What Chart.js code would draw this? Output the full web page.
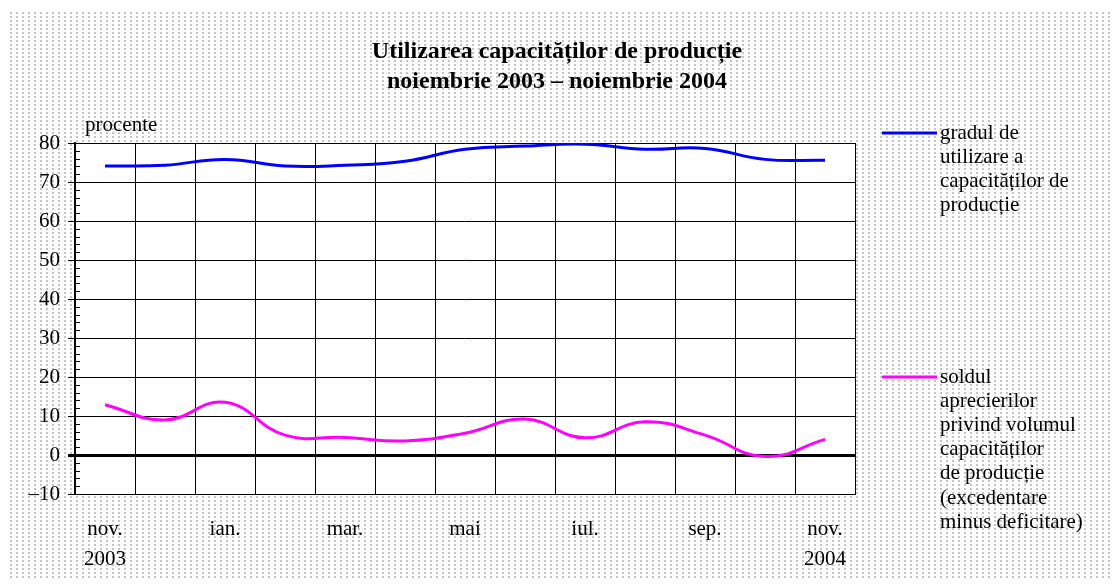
<!DOCTYPE html>
<html>
<head>
<meta charset="utf-8">
<script src="https://cdn.jsdelivr.net/npm/chart.js@4/dist/chart.umd.min.js"></script>
<style>
  html, body { margin: 0; padding: 0; background: #fff; }
  #wrap { position: relative; width: 1115px; height: 585px; }
  #dots {
    position: absolute; left: 10px; top: 12px; width: 1100px; height: 568px;
    background-image: url("data:image/svg+xml,%3Csvg xmlns='http://www.w3.org/2000/svg' width='6' height='4'%3E%3Crect width='2' height='2' fill='%23c4c4c4'/%3E%3C/svg%3E");
  }
  canvas { position: absolute; left: 0; top: 0; }
</style>
</head>
<body>
<div id="wrap">
  <div id="dots"></div>
  <canvas id="c" width="1115" height="585"></canvas>
</div>
<script>
const months = ["nov. 2003", "dec.", "ian.", "feb.", "mar.", "apr.", "mai", "iun.", "iul.", "aug.", "sep.", "oct.", "nov. 2004"];
const tickLabels = [["nov.", "2003"], "", "ian.", "", "mar.", "", "mai", "", "iul.", "", "sep.", "", ["nov.", "2004"]];
const utilizare = [74.1, 74.3, 75.8, 74.1, 74.3, 75.3, 78.4, 79.2, 79.7, 78.4, 78.6, 75.8, 75.6];
const sold = [12.9, 9.0, 13.5, 5.1, 4.5, 3.6, 5.6, 9.2, 4.4, 8.5, 5.1, -0.4, 4.0];

const titleLines = ["Utilizarea capacităților de producție", "noiembrie 2003 – noiembrie 2004"];
const unitLabel = "procente";
const legendBlue = ["gradul de", "utilizare a", "capacităților de", "producție"];
const legendPink = ["soldul", "aprecierilor", "privind volumul", "capacităților", "de producție", "(excedentare", "minus deficitare)"];

const SERIF = "'Liberation Serif', 'Times New Roman', serif";

const decor = {
  id: "decor",
  beforeDraw(chart) {
    const a = chart.chartArea, ctx = chart.ctx;
    ctx.save();
    ctx.fillStyle = "#fff";
    ctx.fillRect(a.left, a.top, a.right - a.left, a.bottom - a.top);
    ctx.restore();
  },
  afterDraw(chart) {
    const ctx = chart.ctx, a = chart.chartArea, y = chart.scales.y;
    ctx.save();
    // minor ticks, inward
    ctx.strokeStyle = "#000";
    ctx.lineWidth = 1;
    for (let v = -10; v <= 80; v += 2) {
      if (v % 10 === 0) continue;
      const py = Math.round(y.getPixelForValue(v)) + 0.5;
      ctx.beginPath();
      ctx.moveTo(a.left, py);
      ctx.lineTo(a.left + 5, py);
      ctx.stroke();
    }
    // y axis line
    ctx.lineWidth = 2;
    ctx.beginPath();
    ctx.moveTo(a.left, a.top);
    ctx.lineTo(a.left, a.bottom + 1);
    ctx.stroke();

    ctx.fillStyle = "#000";
    ctx.textAlign = "center";
    ctx.textBaseline = "middle";
    ctx.font = "bold 24px " + SERIF;
    ctx.fillText(titleLines[0], 557, 52);
    ctx.fillText(titleLines[1], 557, 82);

    ctx.font = "21px " + SERIF;
    ctx.textAlign = "left";
    ctx.fillText(unitLabel, 85, 125);

    const drawLegend = (lines, color, top) => {
      ctx.strokeStyle = color;
      ctx.lineWidth = 3;
      ctx.beginPath();
      ctx.moveTo(882, top);
      ctx.lineTo(937, top);
      ctx.stroke();
      lines.forEach((t, i) => ctx.fillText(t, 940, top + i * 24.2));
    };
    drawLegend(legendBlue, "#0000ff", 133);
    drawLegend(legendPink, "#ff00ff", 377);
    ctx.restore();
  }
};

new Chart(document.getElementById("c"), {
  type: "line",
  data: {
    labels: months,
    datasets: [
      { label: "gradul de utilizare a capacităților de producție", data: utilizare,
        borderColor: "#0000ff", borderWidth: 3, pointRadius: 0, tension: 0.45, fill: false },
      { label: "soldul aprecierilor", data: sold,
        borderColor: "#ff00ff", borderWidth: 3, pointRadius: 0, tension: 0.45, fill: false }
    ]
  },
  options: {
    responsive: false,
    animation: false,
    layout: { padding: { top: 143, right: 260, left: 0, bottom: 0 } },
    plugins: { legend: { display: false }, title: { display: false }, tooltip: { enabled: false } },
    scales: {
      x: {
        offset: true,
        grid: { offset: true, color: "#000", lineWidth: 1, drawTicks: false },
        border: { color: "#000", width: 1 },
        ticks: {
          autoSkip: false, maxRotation: 0, padding: 20, color: "#000",
          font: { family: SERIF, size: 21, lineHeight: 1.43 },
          callback: (v, i) => tickLabels[i]
        },
        afterFit: s => { s.height = 91; }
      },
      y: {
        min: -10, max: 80,
        ticks: {
          stepSize: 2, maxTicksLimit: 100, autoSkip: false, color: "#000", padding: 8,
          font: { family: SERIF, size: 21 },
          callback: v => v % 10 === 0 ? (v < 0 ? "–" + Math.abs(v) : String(v)) : ""
        },
        grid: {
          tickLength: 7,
          color: c => c.tick && c.tick.value % 10 === 0 ? "#000" : "rgba(0,0,0,0)",
          lineWidth: c => c.tick && c.tick.value === 0 ? 3 : 1
        },
        border: { color: "#000", width: 2 },
        afterFit: s => { s.width = 75; }
      }
    }
  },
  plugins: [decor]
});
</script>
</body>
</html>
